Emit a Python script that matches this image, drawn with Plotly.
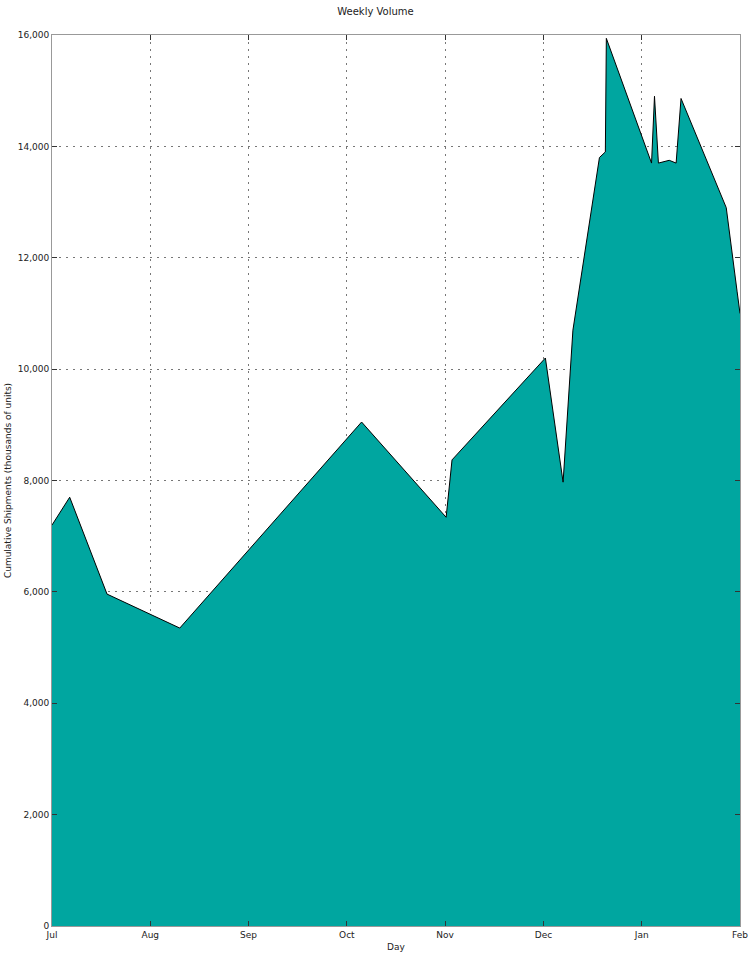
import plotly.graph_objects as go

# Data (x in tick-interval units, y in units)
x_pos = [0.00, 0.18, 0.56, 1.30, 3.15, 4.01, 4.07, 5.02, 5.20, 5.30, 5.57, 5.63, 5.64,
         6.10, 6.13, 6.17, 6.28, 6.35, 6.40, 6.86, 6.97, 7.00]
values = [7200, 7700, 5960, 5350, 9050, 7340, 8370, 10200, 7970, 10700, 13800, 13900, 15940,
          13700, 14900, 13700, 13750, 13700, 14860, 12900, 11400, 11000]

tick_pos = [0, 1, 2, 3, 4, 5, 6, 7]
tick_labels = ["Jul", "Aug", "Sep", "Oct", "Nov", "Dec", "Jan", "Feb"]
y_ticks = [0, 2000, 4000, 6000, 8000, 10000, 12000, 14000, 16000]
y_labels = ["0", "2,000", "4,000", "6,000", "8,000", "10,000", "12,000", "14,000", "16,000"]

fig = go.Figure()
fig.add_trace(go.Scatter(
    x=x_pos, y=values, mode="lines", fill="tozeroy",
    fillcolor="rgb(0,166,160)", line=dict(color="black", width=1),
    showlegend=False, hoverinfo="skip"))

axis_common = dict(
    showline=True, linecolor="#999", linewidth=1, mirror="ticks",
    ticks="inside", ticklen=5, tickcolor="#333",
    showgrid=True, gridcolor="#777", griddash="2px,5px", gridwidth=1,
    zeroline=False, automargin=False,
    tickfont=dict(family="DejaVu Sans", size=9, color="#222"),
)

fig.update_layout(
    width=751, height=972,
    margin=dict(l=52, r=11, t=35, b=46),
    paper_bgcolor="white", plot_bgcolor="white",
    title=dict(text="Weekly Volume", x=0.5, xanchor="center", y=0.988, yanchor="middle",
               font=dict(family="DejaVu Sans", size=10, color="#222")),
    xaxis=dict(range=[0, 7], tickvals=tick_pos, ticktext=tick_labels,
               title=dict(text="Day", font=dict(family="DejaVu Sans", size=9, color="#222"), standoff=4),
               **axis_common),
    yaxis=dict(range=[0, 16000], tickvals=y_ticks, ticktext=y_labels,
               title=dict(text="Cumulative Shipments (thousands of units)",
                          font=dict(family="DejaVu Sans", size=9, color="#222"), standoff=4),
               **axis_common),
)

fig.write_html("out.html", config={"displayModeBar": False},
               post_script="document.body.style.margin='0';document.body.style.overflow='hidden';")
